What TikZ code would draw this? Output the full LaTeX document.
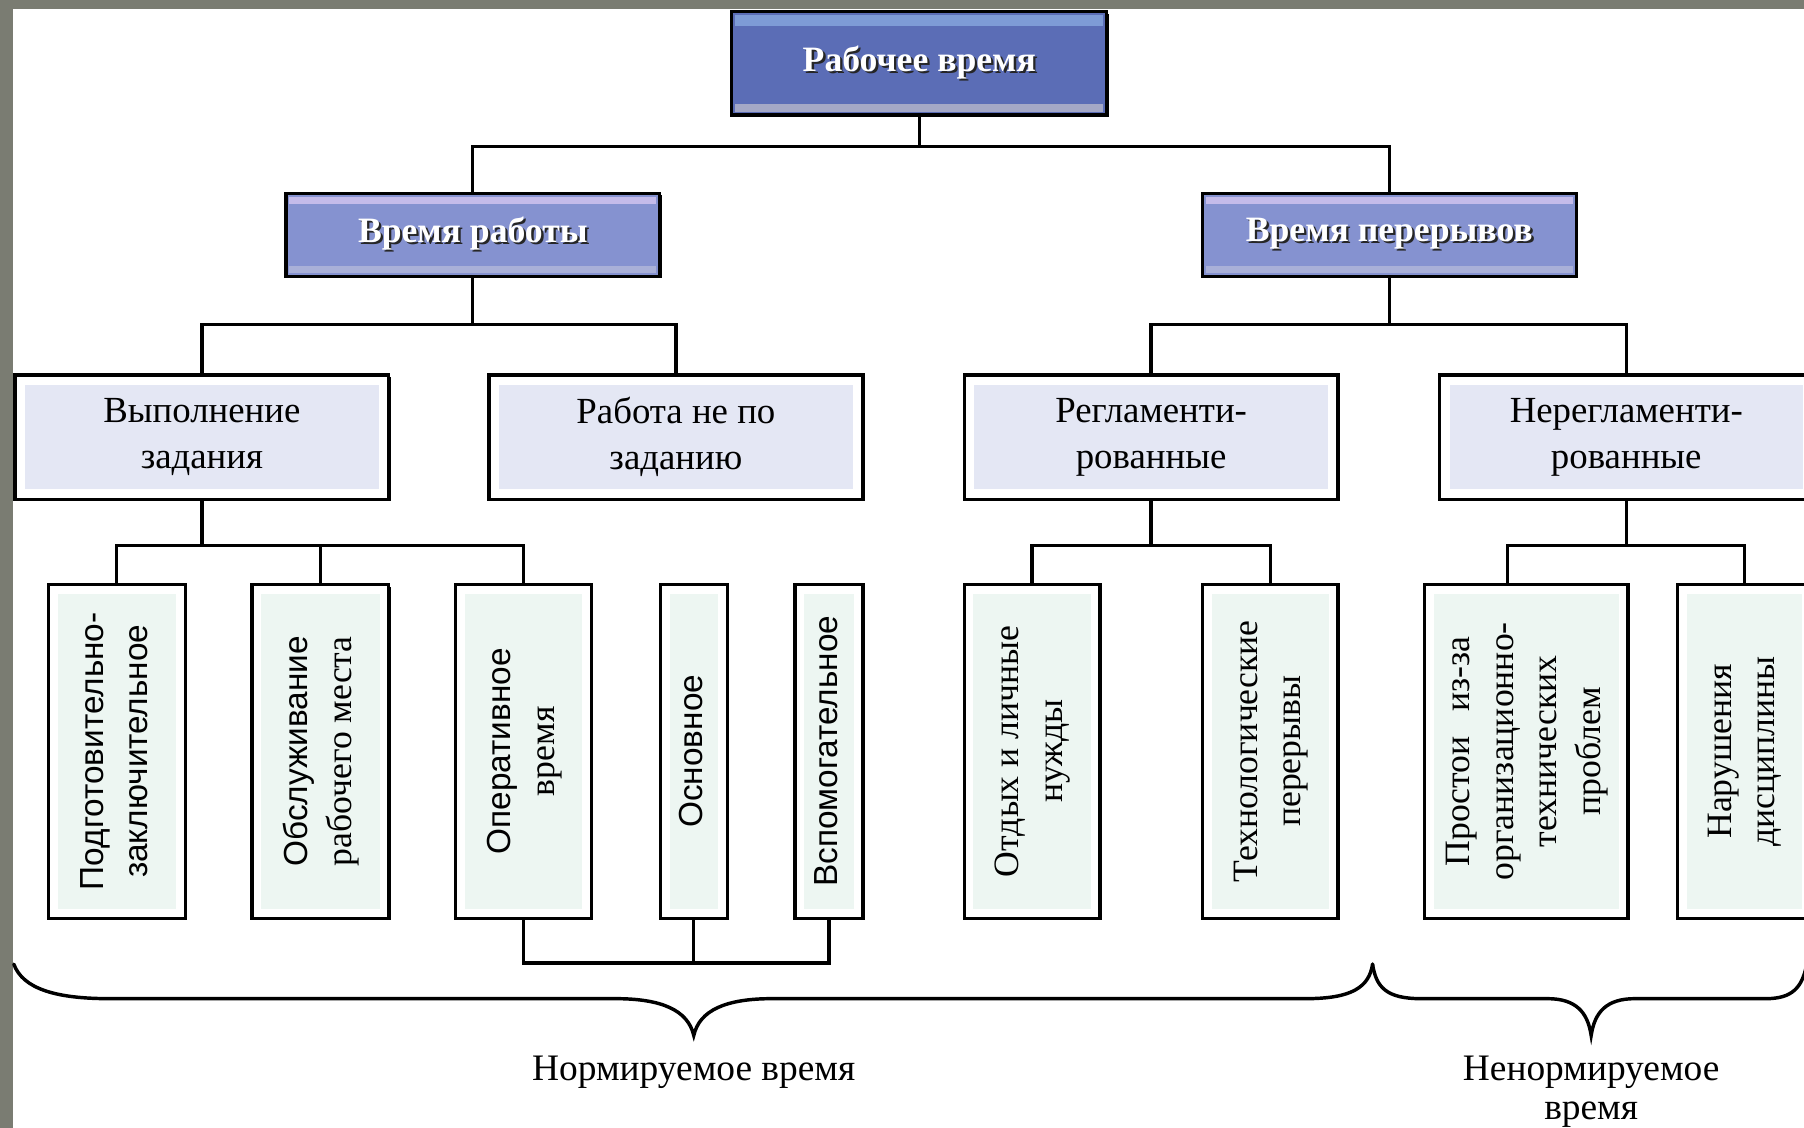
\documentclass[tikz,border=0pt]{standalone}
\usepackage{fontspec}
\setmainfont{Liberation Serif}
\setsansfont{Liberation Sans}
\usetikzlibrary{shadows}

\definecolor{framegray}{HTML}{7A7C72}
\definecolor{topblue}{HTML}{5B6DB6}
\definecolor{topband}{HTML}{7E9BD6}
\definecolor{topbot}{HTML}{A4A8C6}
\definecolor{midblue}{HTML}{8592D0}
\definecolor{midband}{HTML}{C4BBEA}
\definecolor{midbot}{HTML}{A9B0D8}
\definecolor{lavfill}{HTML}{E4E7F4}
\definecolor{mintfill}{HTML}{EDF6F2}

\newcommand\shtext[1]{\makebox[0pt][l]{\hspace{2pt}\raisebox{-2pt}{\color{black!85}#1}}#1}
\newcommand\vtext[1]{\rotatebox{90}{\begin{tabular}{@{}c@{}}#1\end{tabular}}}

\begin{document}
\begin{tikzpicture}[x=1pt,y=-1pt,
  box/.style={draw=black, line width=2.8pt, inner sep=0pt, align=center,
    drop shadow={shadow xshift=1.8pt, shadow yshift=-1.8pt, opacity=1, fill=black}},
  lvlone/.style={box, fill=topblue, text=white, minimum width=326pt, minimum height=90pt,
    font=\fontsize{31}{36}\selectfont\bfseries,
    path picture={
      \fill[topband] ([xshift=3pt,yshift=-3pt]path picture bounding box.north west) rectangle ([xshift=-3pt,yshift=-13pt]path picture bounding box.north east);
      \fill[topbot] ([xshift=3pt,yshift=10pt]path picture bounding box.south west) rectangle ([xshift=-3pt,yshift=3pt]path picture bounding box.south east);}},
  lvltwo/.style={box, fill=midblue, text=white, minimum width=325pt, minimum height=72pt,
    font=\fontsize{31}{36}\selectfont\bfseries,
    path picture={
      \fill[midband] ([xshift=3pt,yshift=-3pt]path picture bounding box.north west) rectangle ([xshift=-3pt,yshift=-9pt]path picture bounding box.north east);
      \fill[midbot] ([xshift=3pt,yshift=9pt]path picture bounding box.south west) rectangle ([xshift=-3pt,yshift=3pt]path picture bounding box.south east);}},
  lvlthree/.style={box, fill=white, minimum width=325pt, minimum height=108pt,
    font=\fontsize{32}{40}\selectfont,
    path picture={
      \fill[lavfill] ([xshift=9pt,yshift=-9pt]path picture bounding box.north west) rectangle ([xshift=-9pt,yshift=9pt]path picture bounding box.south east);}},
  lvlfour/.style={box, fill=white, minimum height=290pt,
    font=\fontsize{31}{38}\selectfont,
    path picture={
      \fill[mintfill] ([xshift=8pt,yshift=-8pt]path picture bounding box.north west) rectangle ([xshift=-8pt,yshift=8pt]path picture bounding box.south east);}},
  sanslines/.style={font=\sffamily\fontsize{29}{38}\selectfont},
  conn/.style={draw=black, line width=2.8pt},
  brace/.style={draw=black, line width=3pt, line cap=round},
  lbl/.style={inner sep=0pt, align=center, font=\fontsize{32.5}{34}\selectfont}
]
\useasboundingbox (0,0) rectangle (1568,980);
\clip (0,0) rectangle (1568,980);
\fill[framegray] (0,0) rectangle (1568,980);
\fill[white] (11,8) rectangle (1568,980);

% level 1 and 2
\node[lvlone] (top) at (799,55) {\shtext{Рабочее время}};
\node[lvltwo] (l2a) at (411,204) {\shtext{Время работы}};
\node[lvltwo] (l2b) at (1207.5,204) {\shtext{Время перерывов}};

% level 3
\node[lvlthree] (l3a) at (175.5,380) {Выполнение\\задания};
\node[lvlthree] (l3b) at (587.5,380) {Работа не по\\заданию};
\node[lvlthree] (l3c) at (1000.5,380) {Регламенти-\\рованные};
\node[lvlthree] (l3d) at (1413.5,380) {Нерегламенти-\\рованные};

% level 4
\node[lvlfour, sanslines, minimum width=119pt] (b1) at (101.5,653) {\vtext{Подготовительно-\\заключительное}};
\node[lvlfour, minimum width=119pt] (b2) at (278.5,653) {\vtext{{\sffamily\fontsize{29}{38}\selectfont Обслуживание}\\рабочего места}};
\node[lvlfour, minimum width=118pt] (b3) at (455,653) {\vtext{{\sffamily\fontsize{29}{38}\selectfont Оперативное}\\время}};
\node[lvlfour, sanslines, minimum width=58pt] (b4) at (603,653) {\vtext{Основное}};
\node[lvlfour, sanslines, minimum width=59pt] (b5) at (720.5,653) {\vtext{Вспомогательное}};
\node[lvlfour, minimum width=118pt] (b6) at (897,653) {\vtext{Отдых и личные\\нужды}};
\node[lvlfour, minimum width=118pt] (b7) at (1104,653) {\vtext{Технологические\\перерывы}};
\node[lvlfour, minimum width=177pt] (b8) at (1326.5,653) {\vtext{Простои\hspace{0.7em}из-за\\организационно-\\технических\\проблем}};
\node[lvlfour, minimum width=116pt] (b9) at (1516,653) {\vtext{Нарушения\\дисциплины}};

% connectors
\coordinate (j0) at (799,127);
\draw[conn] (top.south) -- (j0);
\draw[conn] (l2a.north) |- (j0) -| (l2b.north);

\coordinate (j1) at (411,282);
\draw[conn] (l2a.south) -- (j1);
\draw[conn] (l3a.north) |- (j1) -| (l3b.north);

\coordinate (j2) at (1207.5,282);
\draw[conn] (l2b.south) -- (j2);
\draw[conn] (l3c.north) |- (j2) -| (l3d.north);

\coordinate (j3) at (175.5,474);
\draw[conn] (l3a.south) -- (j3);
\draw[conn] (b1.north) |- (j3) -| (b3.north);
\draw[conn] (b2.north) -- (b2.north |- j3);

\coordinate (j4) at (1000.5,474);
\draw[conn] (l3c.south) -- (j4);
\draw[conn] (b6.north) |- (j4) -| (b7.north);

\coordinate (j5) at (1413.5,474);
\draw[conn] (l3d.south) -- (j5);
\draw[conn] ([xshift=-16.5pt]b8.north) |- (j5) -| (b9.north);

\coordinate (j6) at (603,837);
\draw[conn] (b3.south) |- (j6) -| (b5.south);
\draw[conn] (b4.south) -- (j6);

% braces
\draw[brace] (12,838) .. controls (20,860) and (50,868) .. (95,868) -- (535,868)
  .. controls (575,868) and (598,878) .. (603,900)
  .. controls (608,878) and (631,868) .. (671,868) -- (1135,868)
  .. controls (1175,868) and (1190,858) .. (1193,838);
\draw[brace] (1193,838) .. controls (1196,858) and (1205,868) .. (1235,868) -- (1345,868)
  .. controls (1370,868) and (1380,880) .. (1383,900)
  .. controls (1386,880) and (1396,868) .. (1421,868) -- (1535,868)
  .. controls (1558,868) and (1566,858) .. (1570,840);

% labels
\node[lbl] (norm) at (603,932) {Нормируемое время};
\node[lbl] (nenorm) at (1383,949) {Ненормируемое\\время};
\end{tikzpicture}
\end{document}
